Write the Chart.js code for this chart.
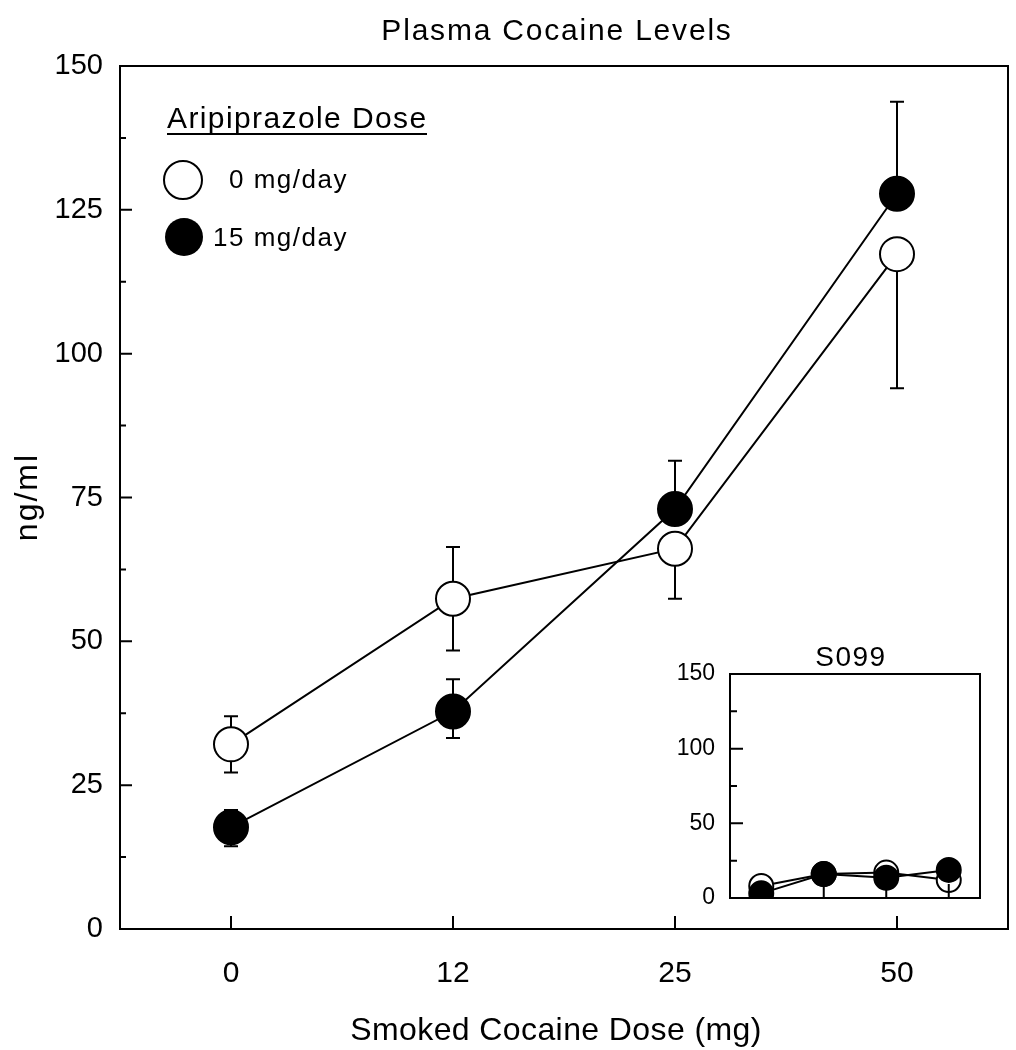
<!DOCTYPE html>
<html>
<head>
<meta charset="utf-8">
<script src="https://cdn.jsdelivr.net/npm/chart.js@4/dist/chart.umd.min.js"></script>
<style>
  body { margin: 0; background: #fff; }
  #wrap { position: relative; width: 1016px; height: 1050px; }
  #inset { position: absolute; left: 640px; top: 630px; }
</style>
</head>
<body>
<div id="wrap">
  <canvas id="main" width="1016" height="1050"></canvas>
  <canvas id="inset" width="360" height="290"></canvas>
</div>
<script>
// categories
var doseLabels = ['0', '12', '25', '50'];

// main panel axis ticks
var yMajor = [0, 25, 50, 75, 100, 125, 150];
var yMinor = [12.5, 37.5, 62.5, 87.5, 112.5, 137.5];

// main panel: mean plasma cocaine (ng/ml) and error bars
var placebo = [32.1, 57.4, 66.1, 117.3];
var placeboUp = [4.9, 9.0, 0, 0];
var placeboDown = [4.9, 9.0, 8.7, 23.3];
var aripiprazole = [17.7, 37.8, 73.0, 127.8];
var aripUp = [3.0, 5.6, 8.4, 16.0];
var aripDown = [3.3, 4.6, 0, 0];

// inset S099
var insetMajor = [0, 50, 100, 150];
var insetMinor = [25, 75, 125];
var insetPlacebo = [8.0, 16.0, 17.0, 12.0];
var insetArip = [3.1, 16.0, 13.6, 18.8];

var FONT = '"Liberation Sans", Arial, Helvetica, sans-serif';

var toPoints = (arr) => arr.map((v, i) => ({ x: i, y: v }));

// write text with a little extra tracking, the original face is wider than Arial
var spaced = (ctx, text, x, y, size, spacing) => {
  ctx.font = size + 'px ' + FONT;
  ctx.letterSpacing = spacing + 'px';
  ctx.fillText(text, x, y);
  var w = ctx.measureText(text).width;
  ctx.letterSpacing = '0px';
  return w;
};

// error bars, drawn under the markers
var errorBars = {
  id: 'errorBars',
  beforeDatasetsDraw(chart) {
    var ctx = chart.ctx;
    var ys = chart.scales.y;
    ctx.save();
    ctx.strokeStyle = '#000';
    ctx.lineWidth = 2;
    chart.data.datasets.forEach((ds, di) => {
      var meta = chart.getDatasetMeta(di);
      ds.data.forEach((p, i) => {
        var px = meta.data[i].x;
        var ends = [];
        if (ds.errUp && ds.errUp[i]) ends.push(p.y + ds.errUp[i]);
        if (ds.errDown && ds.errDown[i]) ends.push(p.y - ds.errDown[i]);
        ends.forEach((end) => {
          var y0 = ys.getPixelForValue(p.y);
          var y1 = ys.getPixelForValue(end);
          ctx.beginPath();
          ctx.moveTo(px, y0);
          ctx.lineTo(px, y1);
          ctx.moveTo(px - 7, y1);
          ctx.lineTo(px + 7, y1);
          ctx.stroke();
        });
      });
    });
    ctx.restore();
  }
};

// box frame and inward tick marks
var frame = {
  id: 'frame',
  afterDraw(chart, args, opts) {
    var ctx = chart.ctx;
    var a = chart.chartArea;
    var xs = chart.scales.x, ys = chart.scales.y;
    ctx.save();
    ctx.strokeStyle = '#000';
    ctx.lineWidth = 2;
    ctx.strokeRect(a.left, a.top, a.right - a.left, a.bottom - a.top);
    ctx.beginPath();
    opts.major.forEach((v) => {
      var y = ys.getPixelForValue(v);
      ctx.moveTo(a.left, y); ctx.lineTo(a.left + opts.majorLen, y);
    });
    opts.minor.forEach((v) => {
      var y = ys.getPixelForValue(v);
      ctx.moveTo(a.left, y); ctx.lineTo(a.left + opts.minorLen, y);
    });
    doseLabels.forEach((l, i) => {
      var x = xs.getPixelForValue(i);
      ctx.moveTo(x, a.bottom); ctx.lineTo(x, a.bottom - opts.xLen);
    });
    ctx.stroke();
    ctx.restore();
  }
};

// titles and hand-made legend for the main panel
var annotations = {
  id: 'annotations',
  afterDraw(chart) {
    var ctx = chart.ctx;
    ctx.save();
    ctx.fillStyle = '#000';
    ctx.textBaseline = 'alphabetic';
    ctx.textAlign = 'center';
    spaced(ctx, 'Plasma Cocaine Levels', 557, 40, 30, 1.8);
    spaced(ctx, 'Smoked Cocaine Dose (mg)', 556, 1040, 32, 0.4);
    ctx.save();
    ctx.translate(37, 497);
    ctx.rotate(-Math.PI / 2);
    spaced(ctx, 'ng/ml', 0, 0, 32, 2);
    ctx.restore();

    // legend
    ctx.textAlign = 'left';
    spaced(ctx, 'Aripiprazole Dose', 167, 128, 30, 1.4);
    ctx.lineWidth = 2;
    ctx.strokeStyle = '#000';
    ctx.beginPath();
    ctx.moveTo(167, 134); ctx.lineTo(427, 134);
    ctx.stroke();

    ctx.beginPath();
    ctx.arc(183, 180, 19, 0, Math.PI * 2);
    ctx.fillStyle = '#fff';
    ctx.fill();
    ctx.stroke();
    ctx.beginPath();
    ctx.arc(184, 237, 19, 0, Math.PI * 2);
    ctx.fillStyle = '#000';
    ctx.fill();

    spaced(ctx, '0 mg/day', 229, 188, 26, 1.5);
    spaced(ctx, '15 mg/day', 213, 246, 26, 1.5);
    ctx.restore();
  }
};

new Chart(document.getElementById('main'), {
  type: 'line',
  data: {
    datasets: [{
      label: '15 mg/day',
      data: toPoints(aripiprazole),
      errUp: aripUp,
      errDown: aripDown,
      borderColor: '#000',
      borderWidth: 2,
      pointRadius: 17,
      pointBackgroundColor: '#000',
      pointBorderColor: '#000',
      pointBorderWidth: 2
    }, {
      label: '0 mg/day',
      data: toPoints(placebo),
      errUp: placeboUp,
      errDown: placeboDown,
      borderColor: '#000',
      borderWidth: 2,
      pointRadius: 17,
      pointBackgroundColor: '#fff',
      pointBorderColor: '#000',
      pointBorderWidth: 2
    }]
  },
  options: {
    responsive: false,
    animation: false,
    devicePixelRatio: 1,
    layout: { autoPadding: false, padding: { left: 0, top: 66, right: 8, bottom: 0 } },
    plugins: {
      legend: { display: false },
      tooltip: { enabled: false },
      frame: { major: yMajor, minor: yMinor, majorLen: 12, minorLen: 6, xLen: 13 }
    },
    scales: {
      x: {
        type: 'linear',
        min: -0.5,
        max: 3.5,
        grid: { display: false, drawTicks: false },
        border: { display: false },
        afterBuildTicks: (s) => { s.ticks = doseLabels.map((l, i) => ({ value: i })); },
        afterFit: (s) => { s.height = 121; s.paddingLeft = 0; s.paddingRight = 0; },
        ticks: {
          padding: 27,
          color: '#000',
          font: { family: FONT, size: 30 },
          callback: (v) => doseLabels[v]
        }
      },
      y: {
        min: 0,
        max: 150,
        grid: { display: false, drawTicks: false },
        border: { display: false },
        afterBuildTicks: (s) => { s.ticks = yMajor.map((v) => ({ value: v })); },
        afterFit: (s) => { s.width = 120; s.paddingTop = 0; s.paddingBottom = 0; },
        ticks: {
          padding: 17,
          color: '#000',
          font: { family: FONT, size: 29 }
        }
      }
    }
  },
  plugins: [errorBars, frame, annotations]
});

var insetTitle = {
  id: 'insetTitle',
  afterDraw(chart) {
    var ctx = chart.ctx;
    ctx.save();
    ctx.fillStyle = '#000';
    ctx.textAlign = 'center';
    ctx.textBaseline = 'alphabetic';
    spaced(ctx, 'S099', 211, 36, 28, 1.5);
    ctx.restore();
  }
};

new Chart(document.getElementById('inset'), {
  type: 'line',
  data: {
    datasets: [{
      label: '15 mg/day',
      data: toPoints(insetArip),
      borderColor: '#000',
      borderWidth: 2,
      pointRadius: 12,
      pointBackgroundColor: '#000',
      pointBorderColor: '#000',
      pointBorderWidth: 2
    }, {
      label: '0 mg/day',
      data: toPoints(insetPlacebo),
      borderColor: '#000',
      borderWidth: 2,
      pointRadius: 12,
      pointBackgroundColor: '#fff',
      pointBorderColor: '#000',
      pointBorderWidth: 2
    }]
  },
  options: {
    responsive: false,
    animation: false,
    devicePixelRatio: 1,
    layout: { autoPadding: false, padding: { left: 0, top: 44, right: 20, bottom: 22 } },
    plugins: {
      legend: { display: false },
      tooltip: { enabled: false },
      frame: { major: insetMajor, minor: insetMinor, majorLen: 13, minorLen: 7, xLen: 14 }
    },
    scales: {
      x: {
        type: 'linear',
        min: -0.5,
        max: 3.5,
        grid: { display: false, drawTicks: false },
        border: { display: false },
        ticks: { display: false },
        afterFit: (s) => { s.height = 0; s.paddingLeft = 0; s.paddingRight = 0; }
      },
      y: {
        min: 0,
        max: 150,
        grid: { display: false, drawTicks: false },
        border: { display: false },
        afterBuildTicks: (s) => { s.ticks = insetMajor.map((v) => ({ value: v })); },
        afterFit: (s) => { s.width = 90; s.paddingTop = 0; s.paddingBottom = 0; },
        ticks: {
          padding: 15,
          color: '#000',
          font: { family: FONT, size: 23 }
        }
      }
    }
  },
  plugins: [frame, insetTitle]
});
</script>
</body>
</html>
